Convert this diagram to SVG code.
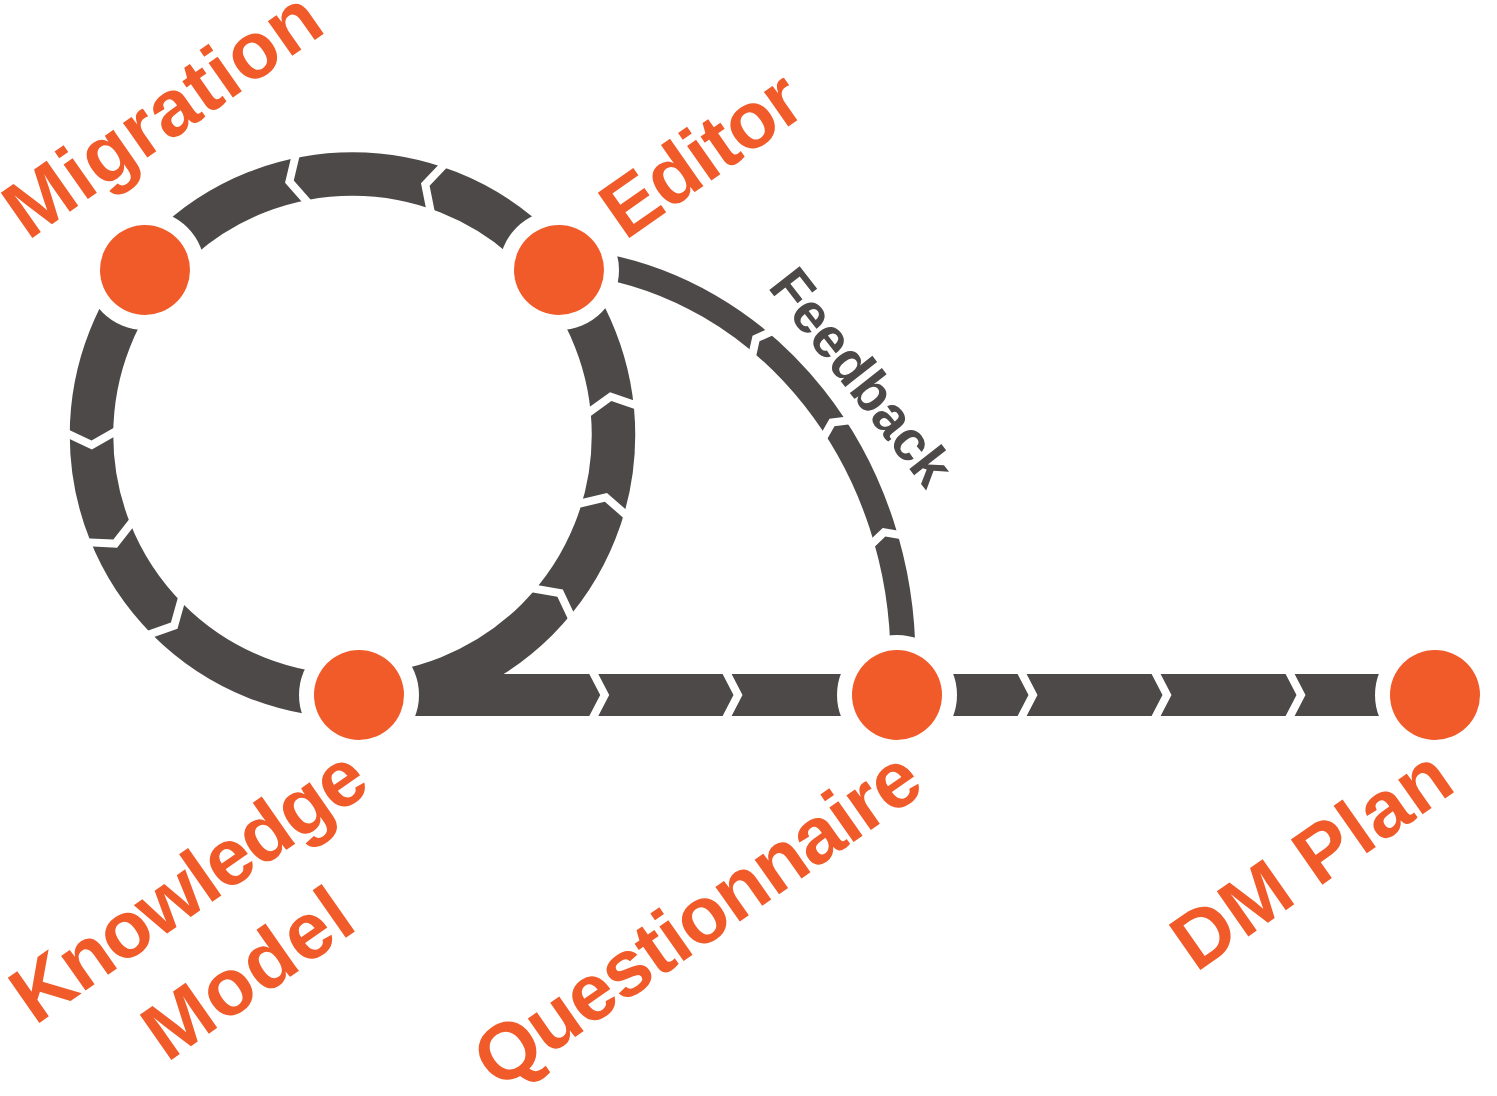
<svg xmlns="http://www.w3.org/2000/svg" xmlns:xlink="http://www.w3.org/1999/xlink" width="1497" height="1096" viewBox="0 0 1497 1096">
<style>
.band{fill:none;stroke:#4d4948}
.halo{fill:#ffffff}
.dot{fill:#f15a29}
.lbl{font-family:"Liberation Sans",Arial,Helvetica,sans-serif;font-weight:bold;font-size:80px;fill:#f15a29}
.fb{font-family:"Liberation Sans",Arial,Helvetica,sans-serif;font-weight:bold;font-size:56px;fill:#4d4948}
</style>
<defs>
<polygon id="chev" points="-18,-26 -4.5,0 -18,26 -9,26 4.5,0 -9,-26" fill="#ffffff"/>
<polygon id="chevS" points="-12.5,-16 -4.5,0 -12.5,16 -3.5,16 4.5,0 -3.5,-16" fill="#ffffff"/>
</defs>
<rect width="1497" height="1096" fill="#ffffff"/>
<g id="connectors">
<circle class="band" cx="352.5" cy="435" r="261" stroke-width="43.5"/>
<line class="band" x1="359" y1="695" x2="1435" y2="695" stroke-width="42"/>
<path class="band" d="M590,263.8 A363,400 0 0 1 903,660" stroke-width="25"/>
<use href="#chev" transform="translate(289.4,181.7) rotate(-194)"/>
<use href="#chev" transform="translate(425.3,184.4) rotate(-163.8)"/>
<use href="#chev" transform="translate(610.7,396.6) rotate(-98.45)"/>
<use href="#chev" transform="translate(605.9,497.3) rotate(-76.2)"/>
<use href="#chev" transform="translate(560.1,593.2) rotate(-52.7)"/>
<use href="#chev" transform="translate(174.2,625.6) rotate(43.1)"/>
<use href="#chev" transform="translate(115.2,543.7) rotate(65.4)"/>
<use href="#chev" transform="translate(91.7,445) rotate(87.8)"/>
<use href="#chev" transform="translate(604.7,695)"/>
<use href="#chev" transform="translate(738,695)"/>
<use href="#chev" transform="translate(1033,695)"/>
<use href="#chev" transform="translate(1167,695)"/>
<use href="#chev" transform="translate(1301,695)"/>
<use href="#chevS" transform="translate(756,338.5) rotate(-140.8)"/>
<use href="#chevS" transform="translate(832,422.4) rotate(-123.8)"/>
<use href="#chevS" transform="translate(884,532.3) rotate(-107)"/>
<text class="fb" transform="translate(767,287) rotate(52)">Feedback</text>
</g>
<g id="node-migration">
<circle class="halo" cx="145" cy="270" r="60"/>
<circle class="dot" cx="145" cy="270" r="45"/>
<text class="lbl" transform="translate(28,241) rotate(-35)" textLength="366">Migration</text>
</g>
<g id="node-editor">
<circle class="halo" cx="559" cy="270" r="60"/>
<circle class="dot" cx="559" cy="270" r="45"/>
<text class="lbl" transform="translate(625,241) rotate(-35)" textLength="225">Editor</text>
</g>
<g id="node-knowledge-model">
<circle class="halo" cx="359" cy="695" r="60"/>
<circle class="dot" cx="359" cy="695" r="45"/>
<text class="lbl" transform="translate(35,1026) rotate(-35)" textLength="413">Knowledge</text>
<text class="lbl" transform="translate(167,1063) rotate(-35)" textLength="235">Model</text>
</g>
<g id="node-questionnaire">
<circle class="halo" cx="897" cy="695" r="60"/>
<circle class="dot" cx="897" cy="695" r="45"/>
<text class="lbl" transform="translate(498,1091) rotate(-35)" textLength="524">Questionnaire</text>
</g>
<g id="node-dm-plan">
<circle class="halo" cx="1435" cy="695" r="60"/>
<circle class="dot" cx="1435" cy="695" r="45"/>
<text class="lbl" transform="translate(1196,973) rotate(-35)" textLength="320">DM Plan</text>
</g>
</svg>
